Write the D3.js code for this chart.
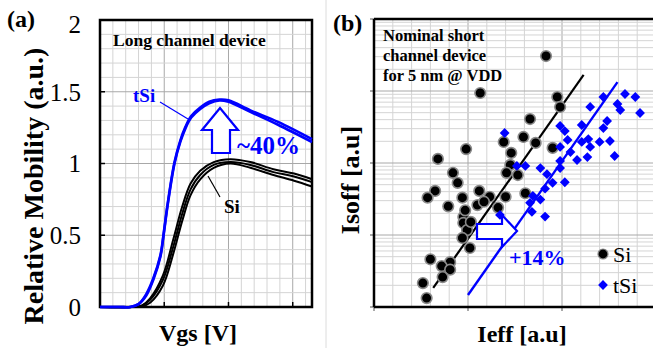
<!DOCTYPE html>
<html>
<head>
<meta charset="utf-8">
<script src="https://cdn.jsdelivr.net/npm/d3@7"></script>
<style>
  body { margin: 0; background: #fff; }
  text { font-family: "Liberation Serif", "Times New Roman", serif; }
</style>
</head>
<body>
<script>
// ---- panel (a): relative mobility vs Vgs ----
const vgsTSi = [0, 0.3, 0.47, 0.6, 0.72, 0.83, 0.94, 0.99, 1.05, 1.16, 1.25, 1.33, 1.42, 1.56, 1.7, 1.86, 2.0, 2.34, 2.77, 3.3];
const tSiA = [0, 0, 0, 0.02, 0.08, 0.19, 0.35, 0.5, 0.7, 1.0, 1.15, 1.245, 1.32, 1.38, 1.42, 1.44, 1.43, 1.36, 1.27, 1.15];
const tSiB = [0, 0, 0, 0.02, 0.09, 0.2, 0.36, 0.51, 0.71, 1.01, 1.16, 1.255, 1.33, 1.39, 1.43, 1.445, 1.44, 1.37, 1.29, 1.17];
const vgsSi = [0, 0.5, 0.65, 0.78, 0.98, 1.14, 1.28, 1.41, 1.56, 1.77, 2.03, 2.34, 2.7, 3.02, 3.3];
const si1 = [0, 0, 0.01, 0.06, 0.22, 0.47, 0.7, 0.86, 0.95, 1.01, 1.03, 1.01, 0.96, 0.93, 0.89];
const si2 = [0, 0, 0.01, 0.05, 0.19, 0.42, 0.65, 0.82, 0.92, 0.99, 1.01, 0.99, 0.94, 0.91, 0.87];
const si3 = [0, 0, 0.005, 0.03, 0.15, 0.37, 0.6, 0.78, 0.89, 0.97, 1.0, 0.97, 0.92, 0.88, 0.84];
const mobTicks = [0, 0.5, 1, 1.5, 2];

// ---- panel (b): Isoff vs Ieff scatter ----
const siIeff = [1.83, 1.13, 1.95, 1.98, 1.66, 1.59, 1.38, 1.72, 0.98, 1.90, 1.46, 0.68, 1.45, 1.41, 1.53, 0.84,
  0.89, 0.65, 0.57, 0.79, 0.94, 1.12, 1.23, 1.40, 1.10, 1.17, 1.32, 1.61, 0.95, 0.95, 0.99, 1.03,
  0.94, 1.02, 0.60, 0.81, 0.72, 0.81, 0.73, 0.52, 0.56, 0.97];
const siIsoff = [3060, 938, 826, 600, 408, 230, 196, 190, 156, 162, 138, 114, 94, 73, 68, 73,
  53, 41, 33, 25, 33, 41, 34, 34, 26, 29, 24, 38, 17.8, 14.7, 11.7, 15.2,
  9.1, 6.6, 4.6, 4.2, 3.7, 3.3, 2.6, 2.15, 1.33, 22];
const tSiIeff = [1.39, 2.44, 2.30, 2.67, 2.78, 2.59, 2.62, 2.83, 2.48, 2.44, 2.21, 1.98, 2.03, 2.28, 2.40, 2.51,
  2.30, 2.06, 1.98, 2.09, 2.56, 2.27, 2.16, 1.98, 1.61, 1.52, 1.77, 1.84, 1.98, 1.90, 2.03, 1.82,
  1.69, 1.77, 1.66, 1.68, 1.82, 1.34, 2.21];
const tSiIsoff = [261, 826, 600, 908, 826, 660, 545, 495, 383, 306, 337, 327, 278, 215, 196, 202,
  167, 209, 167, 142, 125, 121, 110, 107, 91, 91, 85, 70, 85, 53, 54, 44,
  35, 31, 28, 21, 18, 19, 196];
const siFit = [[0.63, 1.84], [2.23, 1670]];
const tSiFit = [[1.0, 1.47], [2.59, 1330]];

const W = 653, H = 348;
const svg = d3.select("body").append("svg").attr("width", W).attr("height", H);

// divider between the two panels
svg.append("line").attr("x1", 326).attr("x2", 326).attr("y1", 0).attr("y2", H)
  .attr("stroke", "#dcdcdc").attr("stroke-width", 1);

// ================= panel (a) =================
const xA = d3.scaleLinear().domain([0, 3.3]).range([100, 312]);
const yA = d3.scaleLinear().domain([0, 2]).range([307, 20]);
const gA = svg.append("g");

gA.selectAll(".vminor").data(d3.range(0.2, 3.3, 0.2)).enter().append("line")
  .attr("x1", d => xA(d)).attr("x2", d => xA(d)).attr("y1", yA(0)).attr("y2", yA(2))
  .attr("stroke", d => Math.abs(d - Math.round(d)) < 0.01 ? "#a8a8a8" : "#d4d4d4").attr("stroke-width", 1);
gA.selectAll(".hminor").data(d3.range(0.1, 2, 0.1)).enter().append("line")
  .attr("x1", xA(0)).attr("x2", xA(3.3)).attr("y1", d => yA(d)).attr("y2", d => yA(d))
  .attr("stroke", d => Math.abs(d * 2 - Math.round(d * 2)) < 0.01 ? "#a8a8a8" : "#d4d4d4").attr("stroke-width", 1);

// inner ticks
gA.selectAll(".ytk").data(mobTicks.slice(1, 4)).enter().append("line")
  .attr("x1", xA(0)).attr("x2", xA(0) + 5).attr("y1", d => yA(d)).attr("y2", d => yA(d))
  .attr("stroke", "#000").attr("stroke-width", 1.5);
gA.selectAll(".xtk").data([1, 2, 3]).enter().append("line")
  .attr("x1", d => xA(d)).attr("x2", d => xA(d)).attr("y1", yA(0)).attr("y2", yA(0) - 5)
  .attr("stroke", "#000").attr("stroke-width", 1.5);

gA.append("rect").attr("x", xA(0)).attr("y", yA(2)).attr("width", xA(3.3) - xA(0)).attr("height", yA(0) - yA(2))
  .attr("fill", "none").attr("stroke", "#000").attr("stroke-width", 2.5);

gA.selectAll(".ylab").data(mobTicks).enter().append("text")
  .attr("x", 81).attr("y", d => yA(d) + (d === 2 ? 4 : 0)).attr("dy", "0.35em")
  .attr("text-anchor", "end").attr("font-size", 25).text(d => d);

const lineA = (xs) => d3.line().x((d, i) => xA(xs[i])).y(d => yA(d)).curve(d3.curveCatmullRom.alpha(0.5));
[si1, si2, si3].forEach(s => {
  gA.append("path").datum(s).attr("d", lineA(vgsSi)).attr("fill", "none")
    .attr("stroke", "#000").attr("stroke-width", 2);
});
[tSiA, tSiB].forEach(s => {
  gA.append("path").datum(s).attr("d", lineA(vgsTSi)).attr("fill", "none")
    .attr("stroke", "#0000ff").attr("stroke-width", 2.6);
});

// labels with leader lines
gA.append("line").attr("x1", 160).attr("y1", 102).attr("x2", 188).attr("y2", 119)
  .attr("stroke", "#0000ff").attr("stroke-width", 1.2);
gA.append("text").attr("x", 133).attr("y", 102).attr("font-size", 19).attr("font-weight", "bold")
  .attr("fill", "#0000ff").text("tSi");
gA.append("line").attr("x1", 220).attr("y1", 197).attr("x2", 208).attr("y2", 176)
  .attr("stroke", "#000").attr("stroke-width", 1.2);
gA.append("text").attr("x", 224).attr("y", 213).attr("font-size", 19).attr("font-weight", "bold")
  .text("Si");

// hollow up arrow
const upArrow = [[212, 153], [212, 130], [202, 130], [220, 108], [238, 130], [230, 130], [230, 153]];
gA.append("path").attr("d", d3.line()(upArrow) + "Z").attr("fill", "#fff")
  .attr("stroke", "#0000ff").attr("stroke-width", 2.2);
gA.append("text").attr("x", 237).attr("y", 154).attr("font-size", 25).attr("font-weight", "bold")
  .attr("fill", "#0000ff").text("~40%");

gA.append("text").attr("x", 113).attr("y", 46).attr("font-size", 17.5).attr("font-weight", "bold")
  .text("Long channel device");
gA.append("text").attr("x", 7).attr("y", 27).attr("font-size", 24).attr("font-weight", "bold").text("(a)");
gA.append("text").attr("x", 198).attr("y", 341).attr("text-anchor", "middle").attr("font-size", 24)
  .attr("font-weight", "bold").text("Vgs [V]");
gA.append("text").attr("transform", "translate(33,186) rotate(-90)").attr("text-anchor", "middle")
  .attr("dy", "0.35em").attr("font-size", 28).attr("font-weight", "bold").text("Relative Mobility (a.u.)");

// ================= panel (b) =================
const xB = d3.scaleLinear().domain([0, 3]).range([374, 656]);
const yB = d3.scaleLog().domain([1, 1e4]).range([307, 19]);
const gB = svg.append("g");

gB.selectAll(".vminor").data(d3.range(0.2, 3.0, 0.2)).enter().append("line")
  .attr("x1", d => xB(d)).attr("x2", d => xB(d)).attr("y1", yB(1)).attr("y2", yB(1e4))
  .attr("stroke", d => Math.abs(d - Math.round(d)) < 0.01 ? "#a8a8a8" : "#d4d4d4").attr("stroke-width", 1);
const logGrid = [];
[1, 10, 100, 1000].forEach(dec => d3.range(2, 11).forEach(m => logGrid.push(dec * m)));
gB.selectAll(".hminor").data(logGrid).enter().append("line")
  .attr("x1", xB(0)).attr("x2", W).attr("y1", d => yB(d)).attr("y2", d => yB(d))
  .attr("stroke", d => [10, 100, 1000].includes(d) ? "#a8a8a8" : "#d4d4d4").attr("stroke-width", 1);

// outer ticks
gB.selectAll(".ytk").data([1, 10, 100, 1000, 10000]).enter().append("line")
  .attr("x1", xB(0) - 4).attr("x2", xB(0)).attr("y1", d => yB(d)).attr("y2", d => yB(d))
  .attr("stroke", "#555").attr("stroke-width", 1);
gB.selectAll(".xtk").data([0, 1, 2]).enter().append("line")
  .attr("x1", d => xB(d)).attr("x2", d => xB(d)).attr("y1", yB(1)).attr("y2", yB(1) + 4)
  .attr("stroke", "#555").attr("stroke-width", 1);

gB.append("line").attr("x1", xB(0)).attr("x2", xB(0)).attr("y1", yB(1e4)).attr("y2", yB(1))
  .attr("stroke", "#000").attr("stroke-width", 2.5);
gB.append("line").attr("x1", xB(0)).attr("x2", W).attr("y1", yB(1e4)).attr("y2", yB(1e4))
  .attr("stroke", "#000").attr("stroke-width", 2.5);
gB.append("line").attr("x1", xB(0)).attr("x2", W).attr("y1", yB(1)).attr("y2", yB(1))
  .attr("stroke", "#000").attr("stroke-width", 2.5);

// fit lines
gB.append("line").attr("x1", xB(siFit[0][0])).attr("y1", yB(siFit[0][1]))
  .attr("x2", xB(siFit[1][0])).attr("y2", yB(siFit[1][1])).attr("stroke", "#000").attr("stroke-width", 2.2);

// Si points
gB.selectAll(".si").data(siIeff).enter().append("circle")
  .attr("cx", d => xB(d)).attr("cy", (d, i) => yB(siIsoff[i])).attr("r", 5.3)
  .attr("fill", "#000").attr("stroke", "#8a8a8a").attr("stroke-width", 1.6);

// tSi points
const diamond = d3.symbol().type(d3.symbolSquare).size(48);
gB.selectAll(".tsi").data(tSiIeff).enter().append("path")
  .attr("d", diamond)
  .attr("transform", (d, i) => `translate(${xB(d)},${yB(tSiIsoff[i])}) rotate(45)`)
  .attr("fill", "#0000ff");

gB.append("line").attr("x1", xB(tSiFit[0][0])).attr("y1", yB(tSiFit[0][1]))
  .attr("x2", xB(tSiFit[1][0])).attr("y2", yB(tSiFit[1][1])).attr("stroke", "#0000ff").attr("stroke-width", 2.4);

// hollow right arrow
const rightArrow = [[477, 224], [502, 224], [502, 215], [517, 231], [502, 247], [502, 239], [477, 239]];
gB.append("path").attr("d", d3.line()(rightArrow) + "Z").attr("fill", "#fff")
  .attr("stroke", "#0000ff").attr("stroke-width", 2.2);
gB.append("text").attr("x", 509).attr("y", 265).attr("font-size", 22).attr("font-weight", "bold")
  .attr("fill", "#0000ff").text("+14%");

// legend
gB.append("circle").attr("cx", 603).attr("cy", 254).attr("r", 5).attr("fill", "#000")
  .attr("stroke", "#8a8a8a").attr("stroke-width", 1.2);
gB.append("text").attr("x", 613).attr("y", 254).attr("dy", "0.35em").attr("font-size", 22).text("Si");
gB.append("path").attr("d", diamond).attr("transform", "translate(603,285) rotate(45)").attr("fill", "#0000ff");
gB.append("text").attr("x", 613).attr("y", 285).attr("dy", "0.35em").attr("font-size", 22).text("tSi");

// annotations and titles
["Nominal short", "channel device", "for 5 nm @ VDD"].forEach((t, i) => {
  gB.append("text").attr("x", 383).attr("y", 41 + i * 20).attr("font-size", 16.5)
    .attr("font-weight", "bold").text(t);
});
gB.append("text").attr("x", 333).attr("y", 31).attr("font-size", 24).attr("font-weight", "bold").text("(b)");
gB.append("text").attr("x", 522).attr("y", 342).attr("text-anchor", "middle").attr("font-size", 24)
  .attr("font-weight", "bold").text("Ieff [a.u]");
gB.append("text").attr("transform", "translate(350,180) rotate(-90)").attr("text-anchor", "middle")
  .attr("dy", "0.35em").attr("font-size", 26).attr("font-weight", "bold").text("Isoff [a.u]");
</script>
</body>
</html>
